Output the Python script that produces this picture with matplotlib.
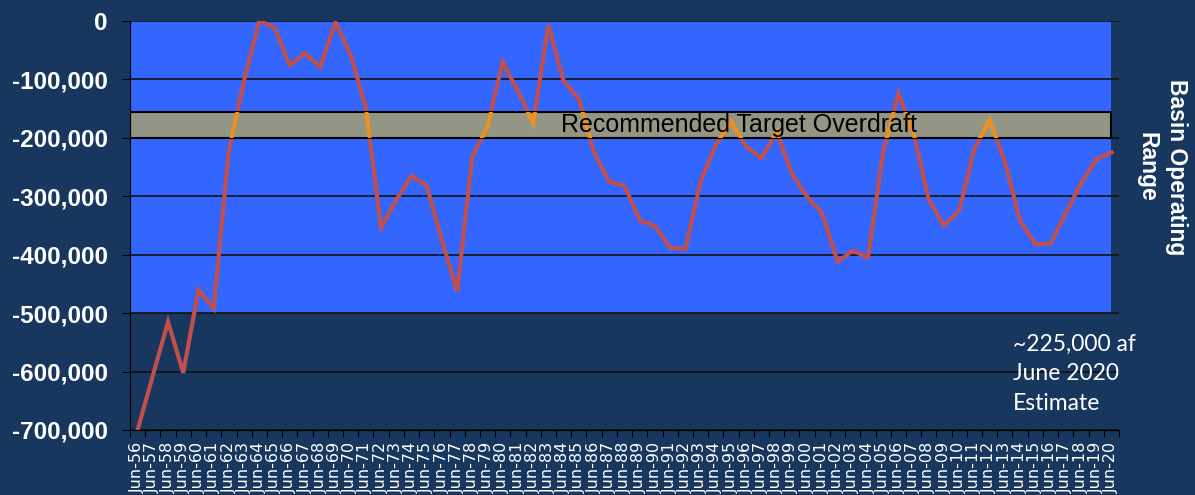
import numpy as np
import matplotlib
matplotlib.use("Agg")
import matplotlib.pyplot as plt
from matplotlib.patches import Rectangle
from matplotlib.ticker import FuncFormatter

# =========================
# DATA
# =========================
years = list(range(56, 100)) + list(range(0, 21))
labels = ["Jun-%02d" % y for y in years]

overdraft = [
    -700000, -607000, -515000, -602000, -460000, -492000, -221000, -102000,
    0, -11000, -76000, -55000, -79000, -2000, -58000, -148000,
    -354000, -306000, -265000, -282000, -375000, -463000, -232000, -181000,
    -70000, -121000, -174000, -7000, -103000, -133000, -225000, -275000,
    -282000, -341000, -351000, -388000, -390000, -275000, -212000, -172000,
    -215000, -235000, -190000, -261000, -301000, -329000, -412000, -393000,
    -405000, -224000, -124000, -192000, -306000, -350000, -324000, -218000,
    -170000, -241000, -342000, -382000, -381000, -329000, -278000, -237000,
    -225000,
]

operating_range = (-500000, 0)
target_band = (-200000, -155000)
yticks = list(range(-700000, 1, 100000))

navy = "#17375E"
blue = "#3366FF"
band_gray = "#939684"
red = "#C0504D"
orange = "#EE9020"

# =========================
# PLOT
# =========================
fig = plt.figure(figsize=(11.95, 4.95), dpi=100, facecolor=navy)
ax = fig.add_axes([130 / 1195, 1 - 430 / 495, 989 / 1195, 409 / 495])
ax.set_facecolor(navy)

x = np.arange(len(overdraft))
n = len(overdraft)

# blue operating range
ax.add_patch(Rectangle((-0.5, operating_range[0]), n - 0.5,
                       operating_range[1] - operating_range[0],
                       facecolor=blue, edgecolor="none", zorder=1))

ax.plot(x, overdraft, color=red, lw=3, zorder=2, solid_joinstyle="miter")

# recommended target band
band = Rectangle((-0.5, target_band[0]), n - 0.5,
                 target_band[1] - target_band[0],
                 facecolor=band_gray, edgecolor="black", lw=1.5, zorder=2.5)
ax.add_patch(band)
clip = Rectangle((-0.5, target_band[0]), n - 0.5,
                 target_band[1] - target_band[0], transform=ax.transData)
line2, = ax.plot(x, overdraft, color=orange, lw=3, zorder=3, solid_joinstyle="miter")
line2.set_clip_path(clip)

ax.text(39.5, sum(target_band) / 2, "Recommended Target Overdraft",
        ha="center", va="center", fontsize=18, color="black",
        family="Liberation Sans", zorder=4)

# axes
ax.set_xlim(-0.5, n - 0.5)
ax.set_ylim(-700000, 0)
ax.set_yticks(yticks)
ax.yaxis.set_major_formatter(FuncFormatter(lambda v, p: "{:,}".format(int(v))))
ax.yaxis.grid(True, color="#111111", lw=1.2)
ax.set_axisbelow("line")

ax.set_xticks(np.arange(-0.5, n, 1))
ax.set_xticklabels([])
ax.set_xticks(x, minor=True)
ax.set_xticklabels(labels, minor=True, rotation=90)
ax.tick_params(axis="x", which="major", length=5, color="black", direction="out")
ax.tick_params(axis="x", which="minor", length=0, pad=8.5, labelsize=11.5,
               labelcolor="white")
ax.tick_params(axis="y", length=6, color="black", pad=10, labelsize=17.5,
               labelcolor="white")
for lab in ax.get_yticklabels():
    lab.set_fontweight("bold")
    lab.set_family("Liberation Sans")
for lab in ax.get_xticklabels(minor=True):
    lab.set_family("DejaVu Sans")
    lab.set_va("top")

for s in ["top", "right"]:
    ax.spines[s].set_visible(False)
ax.spines["left"].set_color("black")
ax.spines["bottom"].set_color("black")

fig.text(1162 / 1195, 1 - 167 / 495, "Basin Operating\nRange", rotation=270,
         ha="center", va="center", multialignment="center", linespacing=1.35,
         fontsize=16.5, fontweight="bold", color="white", family="Liberation Sans")

fig.text(1013 / 1195, 1 - 334 / 495, "~225,000 af\nJune 2020\nEstimate",
         ha="left", va="top", fontsize=16.5, color="white", family="Lato",
         linespacing=1.5)

plt.savefig("out.png", dpi=100, facecolor=navy)
